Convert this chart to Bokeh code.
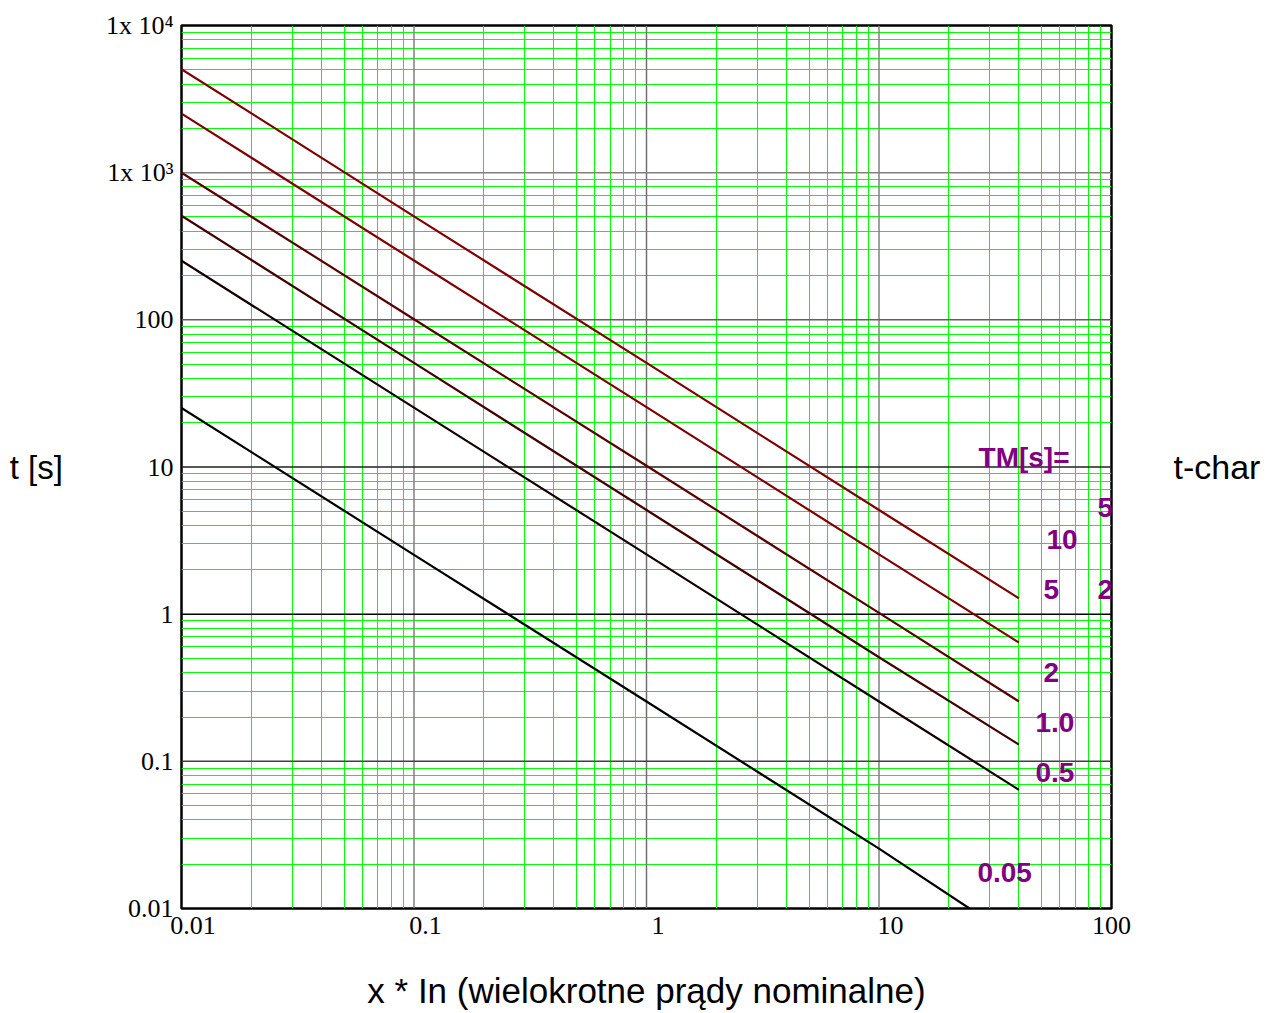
from bokeh.plotting import figure
from bokeh.models import FixedTicker, Span, LogAxis
from bokeh.embed import file_html
from bokeh.resources import INLINE
from bokeh.core.properties import value

# ---- data ----
x_pts = [0.01, 0.1, 1, 10, 40]
t_tm10 = [5050, 505, 51, 5.1, 1.28]
t_tm5 = [2520, 253, 25.5, 2.55, 0.64]
t_tm2 = [1000, 101, 10.2, 1.02, 0.255]
t_tm1 = [510, 51, 5.1, 0.51, 0.13]
t_tm05 = [252, 25.3, 2.55, 0.255, 0.064]
x_tm005 = [0.01, 0.1, 1, 10, 24.5]
t_tm005 = [25.2, 2.53, 0.255, 0.0255, 0.01]

series = [
    (x_pts, t_tm10, "#800000"),
    (x_pts, t_tm5, "#800000"),
    (x_pts, t_tm2, "#580000"),
    (x_pts, t_tm1, "#400000"),
    (x_pts, t_tm05, "#100000"),
    (x_tm005, t_tm005, "#000000"),
]

x_ticks = [0.01, 0.1, 1, 10, 100]
x_tick_labels = ["0.01", "0.1", "1", "10", "100"]
y_ticks = [0.01, 0.1, 1, 10, 100, 1000, 10000]
y_tick_labels = ["0.01", "0.1", "1", "10", "100", "1x 10\u00b3", "1x 10\u2074"]

lbl_text = ["TM[s]=", "5", "10", "5", "2", "2", "1.0", "0.5", "0.05"]
lbl_x = [26.8, 87.1, 52.5, 51.0, 87.1, 51.0, 47.1, 47.1, 26.5]
lbl_y = [11.6, 5.31, 3.22, 1.47, 1.47, 0.402, 0.184, 0.084, 0.0176]

# ---- figure ----
p = figure(width=1264, height=1012, x_axis_type="log", y_axis_type="log",
           x_range=(0.01, 100), y_range=(0.01, 10000),
           output_backend="svg", toolbar_location=None,
           min_border_left=181, min_border_right=153,
           min_border_top=25, min_border_bottom=104)
p.outline_line_color = "black"
p.outline_line_width = 2.5

def minors(lo, hi):
    out = []
    d = lo
    while d < hi:
        for k in range(2, 10):
            out.append(k * d)
        d *= 10
    return out

# x labels sit a little to the right of their decade lines in the original
label_pos = [v * 1.12 if v < 100 else v for v in x_ticks]
p.xaxis.ticker = FixedTicker(ticks=label_pos)
p.xaxis.major_label_overrides = {t: s for t, s in zip(label_pos, x_tick_labels)}
p.xgrid.ticker = FixedTicker(ticks=x_ticks, minor_ticks=minors(0.01, 100))
p.yaxis.ticker = FixedTicker(ticks=y_ticks, minor_ticks=minors(0.01, 10000))
p.ygrid.ticker = FixedTicker(ticks=y_ticks, minor_ticks=minors(0.01, 10000))
p.yaxis.major_label_overrides = {t: s for t, s in zip(y_ticks, y_tick_labels)}

for ax in (p.xaxis, p.yaxis):
    ax.major_tick_in = 0
    ax.major_tick_out = 0
    ax.minor_tick_in = 0
    ax.minor_tick_out = 0
    ax.axis_line_color = None
    ax.major_label_text_font = "Liberation Serif"
    ax.major_label_text_font_size = "26px"
    ax.major_label_text_color = "black"
    ax.axis_label_text_font = "Liberation Sans"
    ax.axis_label_text_font_size = "33px"
    ax.axis_label_text_font_style = "normal"
    ax.axis_label_text_color = "black"

p.xaxis.major_label_standoff = 8
p.yaxis.major_label_standoff = 8
p.xaxis.axis_label = "x * In (wielokrotne prądy nominalne)"
p.xaxis.axis_label_text_font_size = "35px"
p.xaxis.axis_label_standoff = 34
p.yaxis.axis_label = "t [s]"
p.yaxis.axis_label_orientation = "horizontal"
p.yaxis.axis_label_standoff = 40

right = LogAxis(ticker=FixedTicker(ticks=[]), axis_label="t-char",
                axis_label_orientation="horizontal", axis_label_standoff=62,
                axis_label_text_font="Liberation Sans", axis_label_text_font_size="34px",
                axis_label_text_font_style="normal", axis_label_text_color="black",
                axis_line_color=None, major_tick_in=0, major_tick_out=0,
                minor_tick_in=0, minor_tick_out=0)
p.add_layout(right, "right")

for g in (p.xgrid, p.ygrid):
    g.grid_line_color = None
    g.minor_grid_line_color = "#00ff00"
    g.minor_grid_line_width = 1

vcols = {0.1: "#808080", 1: "#707070", 10: "#808080"}
for v, c in vcols.items():
    p.add_layout(Span(location=v, dimension="height", line_color=c, line_width=1.5, level="underlay"))
hcols = {1000: "#808080", 100: "#606060", 10: "#202020", 1: "#000000", 0.1: "#404040"}
for v, c in hcols.items():
    p.add_layout(Span(location=v, dimension="width", line_color=c, line_width=1.5, level="underlay"))

for xs, ys, c in series:
    p.line(xs, ys, line_color=c, line_width=2.2)

p.text(x=lbl_x, y=lbl_y, text=lbl_text, text_font=value("Liberation Sans"),
       text_font_style="bold", text_font_size="28px", text_color="#800080",
       text_align="left", text_baseline="middle")

open("out.html", "w").write(file_html(p, INLINE))
